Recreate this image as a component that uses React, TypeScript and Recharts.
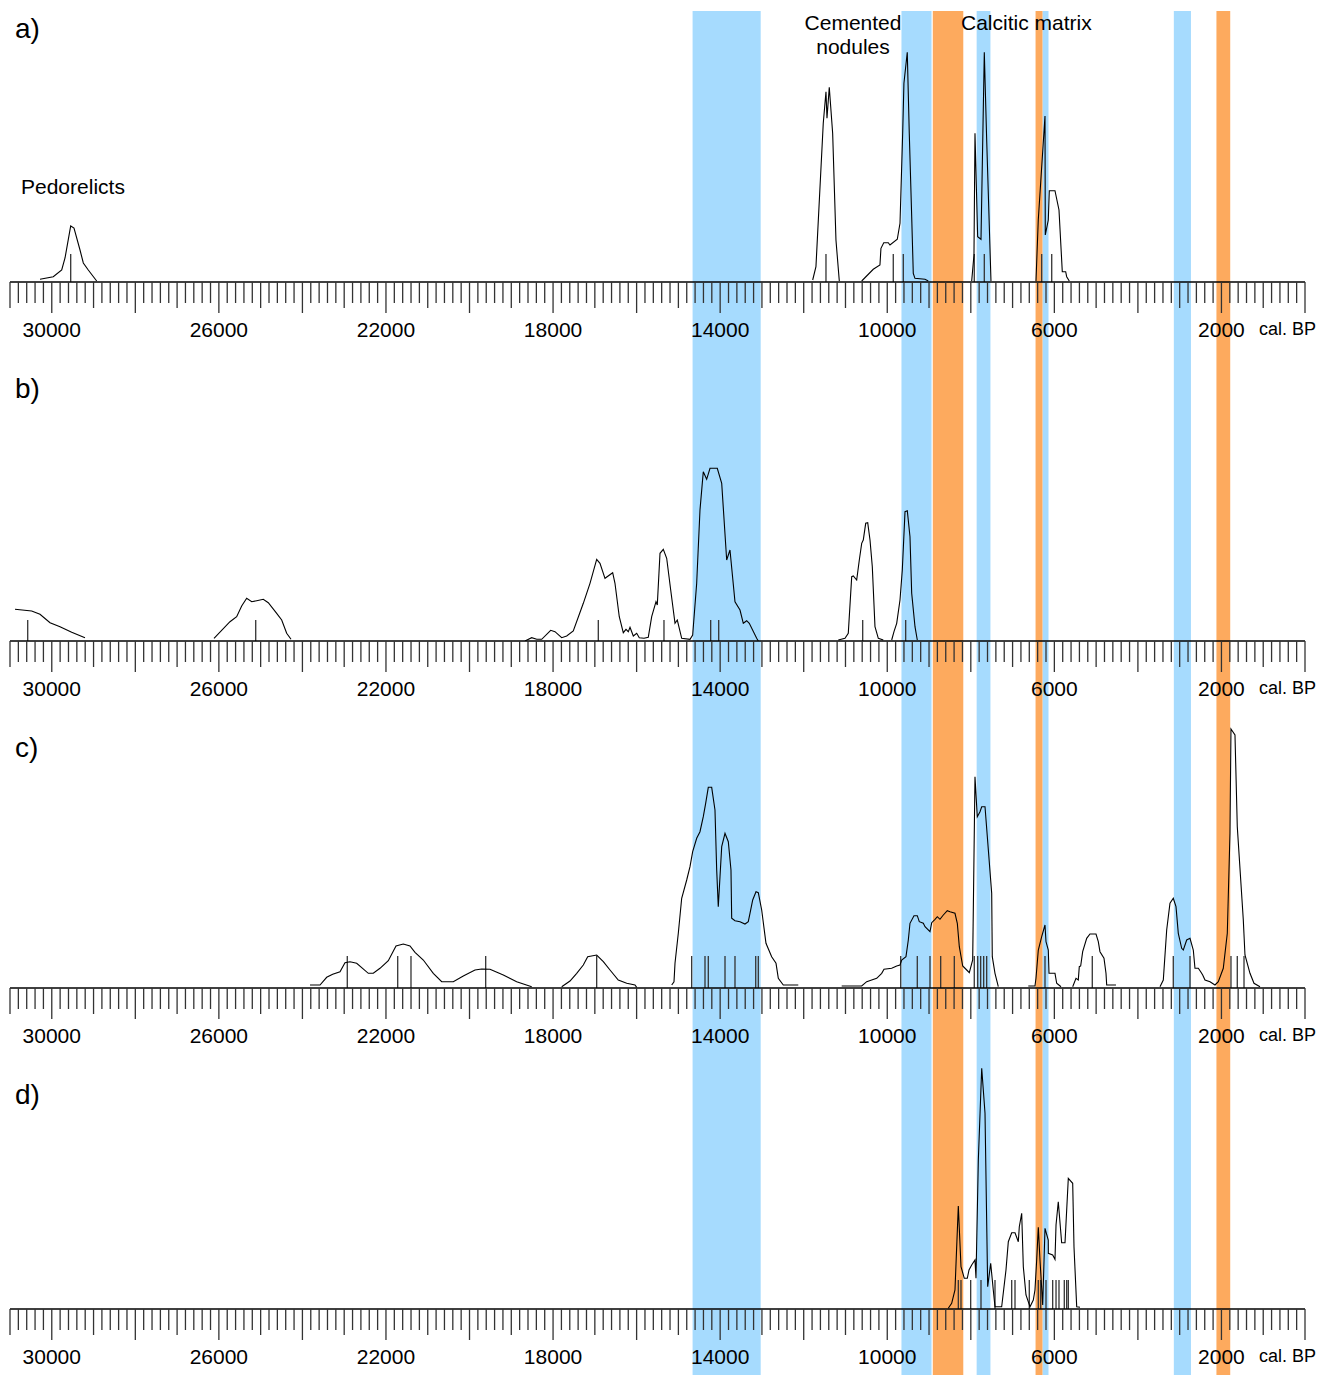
import { ComposedChart, Line, XAxis, YAxis, ReferenceArea, ReferenceLine } from 'recharts';

type Pt = [number, number];

// shaded periods, cal. BP (from, to)
const blueBands: Pt[] = [[14660, 13030], [9660, 8940], [7860, 7530], [6284, 6140], [3140, 2730]];
const orangeBands: Pt[] = [[8910, 8180], [6450, 6284], [2120, 1790]];

const labelTicks = [30000, 26000, 22000, 18000, 14000, 10000, 6000, 2000];

// a) summed probabilities, [cal. BP, density]
const aPedorelicts: Pt[] = [[30282, 2.7], [29964, 5.3], [29762, 12], [29683, 24], [29547, 56], [29468, 54], [29324, 32], [29245, 19], [29126, 12], [28925, 1]];
const aNodules1: Pt[] = [[11785, 2], [11707, 15.3], [11532, 158.7], [11467, 190.3], [11443, 163.7], [11388, 194.7], [11307, 148.7], [11228, 42], [11148, 1]];
const aNodules2: Pt[] = [[10612, 1], [10335, 12.7], [10175, 17], [10151, 33.7], [10084, 39.3], [9976, 39.3], [9935, 37], [9760, 42.7], [9695, 58.7], [9631, 148.7], [9601, 198.7], [9521, 229.7], [9473, 148.7], [9415, 65.3], [9377, 8.7], [9337, 3.7], [9097, 2.7], [9018, 1]];
const aMatrix1: Pt[] = [[7979, 1], [7924, 27], [7900, 148.7], [7836, 45.3], [7756, 42.7], [7677, 229.7], [7620, 142], [7517, 1]];
const aMatrix2: Pt[] = [[6440, 1], [6385, 62], [6224, 166], [6217, 47], [6145, 62], [6121, 91.3], [5985, 91.3], [5889, 72], [5810, 10.3], [5729, 10.3], [5705, 5.3], [5643, 1]];
const aMedians = [29547, 11467, 9856, 9616, 7917, 7677, 6303, 6063];

// b)
const bCurve1: Pt[] = [[30880, 31.7], [30481, 30], [30282, 26.7], [30042, 18.3], [29803, 14.3], [29523, 8.7], [29205, 3.3]];
const bCurve2: Pt[] = [[26117, 2.7], [25734, 19.3], [25574, 24.3], [25454, 35], [25334, 42.7], [25214, 39.3], [25094, 40.3], [24937, 41.7], [24817, 38.3], [24616, 27.7], [24496, 21], [24377, 7.7], [24273, 1.7]];
const bCurve3: Pt[] = [[18672, 0], [18512, 3.3], [18392, 1.7], [18272, 1.7], [18057, 10.7], [17954, 9.3], [17794, 3.3], [17674, 5], [17516, 10], [17276, 37.7], [17116, 57.7], [16956, 81.7], [16877, 77.7], [16757, 62.7], [16573, 68.3], [16518, 57.7], [16415, 24.3], [16319, 8.3], [16254, 11.7], [16199, 9.3], [16158, 13.7], [16079, 5], [15998, 7.7], [15936, 3.3], [15823, 2.7], [15721, 3.7], [15639, 24.3], [15536, 39.3], [15505, 36], [15440, 87.7], [15361, 91.7], [15280, 82.7], [15184, 51], [15081, 17.7], [15026, 21], [14921, 2.7], [14722, 1.7], [14658, 6], [14562, 57.7], [14483, 131], [14404, 169.3], [14323, 161.7], [14243, 172.7], [14069, 172.7], [13963, 157.7], [13844, 81], [13765, 91], [13645, 39.3], [13525, 31], [13446, 17.7], [13365, 20.3], [13303, 17.7], [13126, 2.7], [13087, 0]];
const bCurve4: Pt[] = [[11172, 1], [11012, 2.7], [10933, 7.7], [10851, 64.3], [10813, 65], [10732, 61], [10669, 81], [10612, 97.7], [10574, 101], [10516, 117.7], [10468, 118.3], [10413, 101], [10358, 74.3], [10294, 14.3], [10214, 2.7], [10095, 1]];
const bCurve5: Pt[] = [[9894, 1], [9839, 9.3], [9774, 17.7], [9695, 41], [9640, 71], [9575, 129.3], [9520, 130.3], [9456, 104.3], [9415, 47.7], [9336, 14.3], [9281, 1]];
const bMedians = [30576, 25118, 16917, 15345, 14227, 14035, 10588, 9559];

// c)
const cCurve1: Pt[] = [[23819, 3], [23579, 3], [23419, 10.7], [23275, 13.7], [23100, 16.3], [22981, 25.3], [22861, 26.3], [22701, 24.7], [22423, 14.7], [22303, 14.7], [22143, 19.7], [21944, 27.3], [21760, 42], [21585, 44], [21425, 42], [21305, 35.7], [21106, 28], [20867, 14.7], [20666, 6.3], [20388, 6.3], [20149, 12], [19869, 18], [19708, 19], [19510, 18.7], [19191, 13], [18871, 6.3], [18511, 1.3]];
const cCurve2: Pt[] = [[17793, 1.3], [17595, 7], [17434, 14.7], [17276, 23], [17171, 31.3], [16956, 33], [16797, 26.3], [16637, 18], [16439, 8], [16237, 4.7], [16039, 3], [15998, 0.7]];
const cCurve3: Pt[] = [[15160, 3], [15105, 6.3], [15081, 24.7], [15002, 54.7], [14921, 89.7], [14801, 108], [14722, 121.3], [14658, 136.3], [14562, 149.7], [14483, 156.3], [14404, 171.3], [14347, 184.7], [14284, 200.7], [14203, 200.7], [14124, 178], [14083, 118], [14045, 81.3], [14004, 111.3], [13963, 141.3], [13884, 154.7], [13805, 146.3], [13741, 118], [13724, 69.7], [13645, 67.3], [13525, 66.3], [13406, 64], [13327, 66.3], [13286, 74.7], [13221, 88], [13142, 96.3], [13087, 95.3], [13006, 78], [12903, 44.7], [12767, 31.3], [12663, 24.7], [12608, 9.7], [12489, 3], [12130, 3]];
const cCurve4: Pt[] = [[11091, 2], [10612, 2], [10492, 6.3], [10373, 8], [10253, 9.7], [10133, 14.7], [10078, 18.7], [9894, 19.7], [9774, 22], [9695, 23], [9654, 28], [9552, 31.3], [9496, 48], [9456, 64.7], [9360, 72.3], [9281, 72.3], [9233, 66.3], [9137, 64.7], [9096, 61.3], [8977, 56.3], [8936, 65.3], [8857, 68.7], [8802, 71.3], [8738, 68.7], [8658, 73], [8563, 77.3], [8498, 76.3], [8379, 74.7], [8323, 64.7], [8275, 41.3], [8194, 22], [8098, 18], [8036, 15.3], [7955, 28], [7900, 211.3], [7845, 171.3], [7780, 176.3], [7739, 181.3], [7660, 181.3], [7500, 94.7], [7486, 31.3], [7421, 14.7], [7342, 1.3]];
const cCurve5: Pt[] = [[6624, 2], [6464, 2], [6440, 9.7], [6384, 38], [6303, 51.3], [6224, 63], [6200, 46.3], [6145, 38], [6128, 14.7], [5985, 14.7], [5944, 4.7], [5841, 1.3]];
const cCurve6: Pt[] = [[5561, 1.3], [5482, 9.7], [5427, 8], [5403, 21.3], [5370, 22], [5322, 36.3], [5226, 49.7], [5147, 54], [5003, 54], [4948, 46.3], [4908, 36.3], [4812, 29.7], [4764, 14.7], [4747, 3], [4525, 3]];
const cCurve7: Pt[] = [[3471, 1.3], [3392, 8], [3311, 58], [3232, 84.7], [3153, 89.7], [3088, 81.3], [3033, 54.7], [2952, 39.7], [2913, 38], [2832, 48], [2753, 49.7], [2674, 38], [2634, 19.7], [2554, 19.7], [2497, 16.3], [2449, 13], [2394, 8], [2274, 6.3], [2155, 3], [2075, 6.3], [1956, 19.7], [1860, 54.7], [1796, 154.7], [1772, 259], [1676, 253], [1621, 161.3], [1477, 68], [1437, 33], [1317, 14.7], [1221, 4.7], [1077, 1.3]];
const cMedians = [22926, 21719, 21401, 19613, 16956, 14682, 14363, 14284, 13884, 13645, 13149, 13087, 9678, 9281, 8977, 8721, 8395, 7917, 7835, 7764, 7692, 7620, 6224, 5092, 3153, 2753, 1772, 1621, 1460];

// d)
const dCurve1: Pt[] = [[8539, 0.7], [8458, 5.7], [8379, 19], [8299, 103], [8235, 42.3], [8156, 30.7], [8084, 30.7], [8043, 39], [7979, 44], [7900, 49], [7876, 30.7], [7820, 149], [7739, 240.7], [7660, 195.7], [7596, 22.3], [7524, 45.7], [7462, 19], [7421, 2.3], [7261, 2.3], [7158, 39], [7102, 67.3], [7021, 76.3], [6942, 76.3], [6863, 67.3], [6839, 82.3], [6782, 95.7], [6743, 42.3], [6679, 14], [6583, 2.3], [6504, 9], [6464, 19], [6423, 49], [6384, 81.7], [6344, 49], [6279, 4], [6224, 80.7], [6146, 69], [6144, 55.7], [6040, 54], [5985, 49.7], [5960, 84], [5906, 107.3], [5825, 66.3], [5745, 66.3], [5666, 130.7], [5561, 125.7], [5530, 62.3], [5465, 2.3], [5386, 1.7]];
const dMedians = [8299, 8235, 8003, 7756, 7421, 7021, 6942, 6600, 6384, 6327, 6200, 6040, 5960, 5889, 5762, 5705, 5666];

const toRows = (pts: Pt[]) => pts.map(([t, h]) => ({ t, h }));

const panels = [
  { id: 'a', curves: [aPedorelicts, aNodules1, aNodules2, aMatrix1, aMatrix2], medians: aMedians, medianH: 28, baseline: 282 },
  { id: 'b', curves: [bCurve1, bCurve2, bCurve3, bCurve4, bCurve5], medians: bMedians, medianH: 21, baseline: 641 },
  { id: 'c', curves: [cCurve1, cCurve2, cCurve3, cCurve4, cCurve5, cCurve6, cCurve7], medians: cMedians, medianH: 32, baseline: 988 },
  { id: 'd', curves: [dCurve1], medians: dMedians, medianH: 29, baseline: 1309 },
];

const allTicks: number[] = [];
for (let v = 0; v <= 31000; v += 200) allTicks.push(v);

const W = 1319;
const MARGIN = { top: 0, right: 14, bottom: 0, left: 10 };
const PLOT_H = 270;
const AXIS_H = 60;

const renderTick = (props: any) => {
  const { x, y, payload } = props;
  const v = payload.value;
  const len = v % 2000 === 0 ? 31 : v % 1000 === 0 ? 26 : 21;
  return (
    <g>
      <line x1={x} x2={x} y1={y} y2={y + len} stroke="#333" strokeWidth={1.3} />
      {labelTicks.includes(v) && (
        <text x={x} y={y + 55} textAnchor="middle" fontSize={21} fill="#000">
          {v}
        </text>
      )}
      {v === 0 && (
        <text x={x + 11} y={y + 53} textAnchor="end" fontSize={18} fill="#000">
          cal. BP
        </text>
      )}
    </g>
  );
};

function Panel({ panel }: { panel: (typeof panels)[number] }) {
  return (
    <div style={{ position: 'absolute', left: 0, top: panel.baseline - PLOT_H }}>
      <ComposedChart width={W} height={PLOT_H + AXIS_H} margin={MARGIN}>
        <XAxis
          type="number"
          dataKey="t"
          domain={[0, 31000]}
          reversed
          allowDataOverflow
          ticks={allTicks}
          interval={0}
          tick={renderTick}
          tickLine={false}
          tickSize={0}
          tickMargin={0}
          axisLine={{ stroke: '#000', strokeWidth: 1.5 }}
          height={AXIS_H}
        />
        <YAxis hide type="number" domain={[0, PLOT_H]} allowDataOverflow />
        {panel.medians.map((m, i) => (
          <ReferenceLine
            key={'m' + i}
            segment={[{ x: m, y: 0 }, { x: m, y: panel.medianH }]}
            stroke="#333"
            strokeWidth={1.3}
          />
        ))}
        {panel.curves.map((c, i) => (
          <Line
            key={'c' + i}
            data={toRows(c)}
            dataKey="h"
            type="linear"
            stroke="#000"
            strokeWidth={1.1}
            dot={false}
            isAnimationActive={false}
          />
        ))}
      </ComposedChart>
    </div>
  );
}

// band chart behind all four panels, same x scale
function Bands() {
  const edges = [{ t: 0, h: 0 }, { t: 31000, h: 1 }];
  return (
    <ComposedChart width={W} height={1364} margin={MARGIN} data={edges}>
      <XAxis hide type="number" dataKey="t" domain={[0, 31000]} reversed allowDataOverflow />
      <YAxis hide type="number" domain={[0, 1]} allowDataOverflow />
      {blueBands.map(([x1, x2], i) => (
        <ReferenceArea key={'bl' + i} x1={x1} x2={x2} y1={0} y2={1} fill="#a6dbfe" fillOpacity={1} stroke="none" ifOverflow="extendDomain" />
      ))}
      {orangeBands.map(([x1, x2], i) => (
        <ReferenceArea key={'or' + i} x1={x1} x2={x2} y1={0} y2={1} fill="#fdaa5e" fillOpacity={1} stroke="none" ifOverflow="extendDomain" />
      ))}
      <Line dataKey="h" stroke="none" dot={false} isAnimationActive={false} />
    </ComposedChart>
  );
}

export default function App() {
  return (
    <div
      style={{
        position: 'absolute',
        left: 0,
        top: 0,
        width: W,
        height: 1375,
        background: '#fff',
        overflow: 'hidden',
        fontFamily: '"Liberation Sans", Arial, sans-serif',
      }}
    >
      <div style={{ position: 'absolute', left: 0, top: 11 }}>
        <Bands />
      </div>
      {panels.map((p) => (
        <Panel key={p.id} panel={p} />
      ))}
      <svg width={W} height={1375} style={{ position: 'absolute', left: 0, top: 0, pointerEvents: 'none' }}>
        <g fontSize={28} fill="#000">
          <text x={15} y={38}>a)</text>
          <text x={15} y={398}>b)</text>
          <text x={15} y={757}>c)</text>
          <text x={15} y={1104}>d)</text>
        </g>
        <g fontSize={21} fill="#000">
          <text x={21} y={194}>Pedorelicts</text>
          <text x={853} y={29.5} textAnchor="middle">Cemented</text>
          <text x={853} y={53.5} textAnchor="middle">nodules</text>
          <text x={961} y={29.5}>Calcitic matrix</text>
        </g>
      </svg>
    </div>
  );
}
